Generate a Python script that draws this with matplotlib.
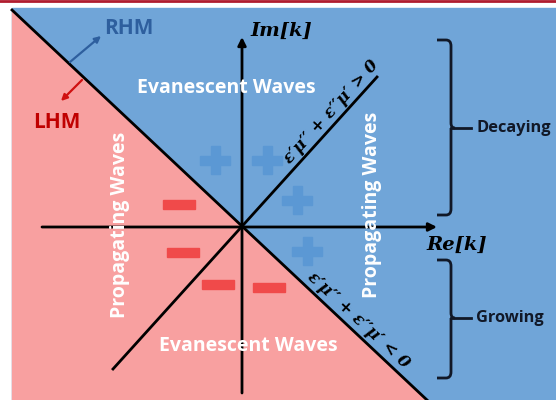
import matplotlib
matplotlib.use("Agg")
import matplotlib.pyplot as plt
from matplotlib.patches import Polygon, Rectangle, FancyArrowPatch, PathPatch
from matplotlib.path import Path

# diagram geometry (pixel space, y down)
origin = (242, 227)
diag_neg = [(12, 10), (427, 400)]          # RHM / LHM boundary
diag_pos = [(113, 369), (377, 77)]         # eps'mu'' + eps''mu' > 0 line
re_axis = [(42, 227), (437, 227)]
im_axis = [(242, 393), (242, 37)]

plus_xy = [(215, 160), (267, 160), (297, 200), (307, 251)]
minus_xy = [(179, 204), (183, 252), (218, 284), (269, 287)]

white_labels = ["Evanescent Waves", "Evanescent Waves", "Propagating Waves", "Propagating Waves"]
white_xy = [(226, 88), (248, 346), (120, 225), (372, 205)]
white_rot = [0, 0, 90, 90]

brackets = [(40, 215, 128), (260, 378, 318)]   # top, bottom, middle tick y
bracket_labels = ["Decaying", "Growing"]

BLUE = "#70a5d8"
PINK = "#f8a0a0"
PLUS_C = "#5b98d4"
MINUS_C = "#f04a4a"
DARK = "#111827"
SANS = "Open Sans"

fig = plt.figure(figsize=(5.56, 4.0), dpi=100)
ax = fig.add_axes([0, 0, 1, 1])
ax.set_xlim(0, 556)
ax.set_ylim(400, 0)
ax.axis("off")

# background panels
ax.add_patch(Rectangle((12, 8), 544, 392, color=BLUE, zorder=0))
ax.add_patch(Polygon([diag_neg[0], (12, 400), diag_neg[1]], closed=True, color=PINK, zorder=1))
ax.plot([0, 556], [1, 1], color="#b01c2e", lw=2, zorder=5)

# lines
ax.plot(*zip(*diag_neg), color="black", lw=2, zorder=3)
ax.plot(*zip(*diag_pos), color="black", lw=2, zorder=3)
for seg in (re_axis, im_axis):
    ax.add_patch(FancyArrowPatch(seg[0], seg[1], arrowstyle="-|>", mutation_scale=12,
                                 color="black", lw=2, shrinkA=0, shrinkB=0, zorder=3))

# plus / minus marks
for x, y in plus_xy:
    ax.add_patch(Rectangle((x - 15, y - 4.5), 30, 9, color=PLUS_C, zorder=2))
    ax.add_patch(Rectangle((x - 4.5, y - 14), 9, 28, color=PLUS_C, zorder=2))
for x, y in minus_xy:
    ax.add_patch(Rectangle((x - 16, y - 4.5), 32, 9, color=MINUS_C, zorder=2))

# white region labels
for s, (x, y), r in zip(white_labels, white_xy, white_rot):
    ax.text(x, y, s, color="white", fontsize=14, fontweight="bold", family=SANS,
            ha="center", va="center", rotation=r, zorder=4)

# axis labels
serif = dict(family="DejaVu Serif", fontweight="bold", style="italic", color="black", zorder=4)
ax.text(250, 31, "Im[k]", fontsize=14, ha="left", va="center", **serif)
ax.text(457, 245, "Re[k]", fontsize=14, ha="center", va="center", **serif)

# condition labels along lines
ax.text(331, 112, "ε′μ′′ + ε′′μ′ > 0", fontsize=12, rotation=48, rotation_mode="anchor",
        ha="center", va="center", **serif)
ax.text(358, 320, "ε′μ′′ + ε′′μ′ < 0", fontsize=12, rotation=-43, rotation_mode="anchor",
        ha="center", va="center", **serif)

# RHM / LHM
ax.text(129, 28, "RHM", color="#2e5f9e", fontsize=15, fontweight="bold", family=SANS,
        ha="center", va="center", zorder=4)
ax.text(57, 123, "LHM", color="#c00000", fontsize=15, fontweight="bold", family=SANS,
        ha="center", va="center", zorder=4)
ax.add_patch(FancyArrowPatch((70, 62), (101, 36), arrowstyle="-|>", mutation_scale=9,
                             color="#2e5f9e", lw=1.6, shrinkA=0, shrinkB=0, zorder=4))
ax.add_patch(FancyArrowPatch((82, 80), (61, 101), arrowstyle="-|>", mutation_scale=9,
                             color="#d01010", lw=1.6, shrinkA=0, shrinkB=0, zorder=4))

# brackets
bx = 451
for (top, bot, mid), lab in zip(brackets, bracket_labels):
    verts = [(437, top), (446, top), (bx, top), (bx, top + 6),
             (bx, mid - 5), (bx, mid), (bx + 4, mid),
             (bx, mid), (bx, mid + 5),
             (bx, bot - 6), (bx, bot), (446, bot), (437, bot)]
    codes = [Path.MOVETO, Path.LINETO, Path.CURVE3, Path.CURVE3,
             Path.LINETO, Path.CURVE3, Path.CURVE3,
             Path.MOVETO, Path.LINETO,
             Path.LINETO, Path.CURVE3, Path.CURVE3, Path.LINETO]
    ax.add_patch(PathPatch(Path(verts, codes), fill=False, color=DARK, lw=2, zorder=4))
    ax.plot([bx, bx + 20], [mid, mid], color=DARK, lw=2, zorder=4)
    ax.text(bx + 25, mid, lab, color=DARK, fontsize=11.8, fontweight="bold", family=SANS,
            ha="left", va="center", zorder=4)

fig.savefig("out.png", dpi=100)
